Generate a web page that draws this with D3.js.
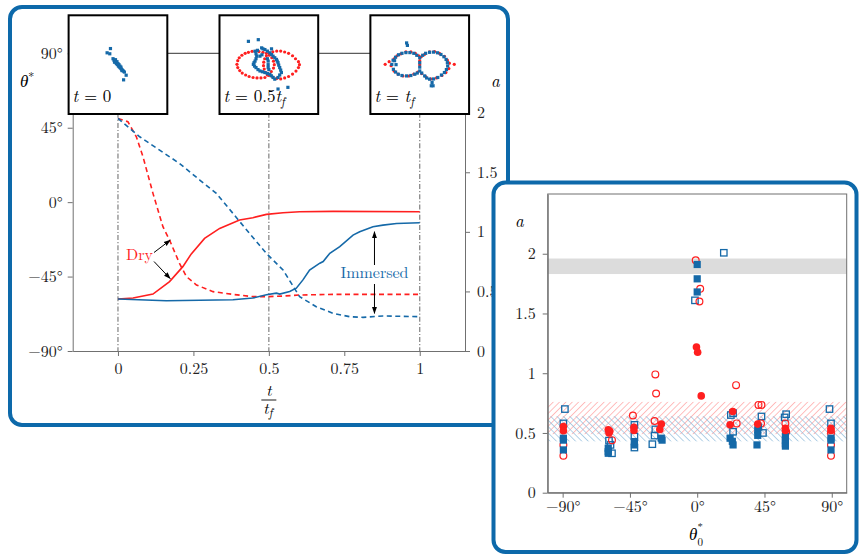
<!DOCTYPE html>
<html>
<head>
<meta charset="utf-8">
<script src="https://cdn.jsdelivr.net/npm/d3@7"></script>
<style>
body { margin: 0; background: #fff; }
</style>
</head>
<body>
<svg id="chart" width="859" height="555"></svg>
<script>
// ---- left panel: time evolution, [t/tf, value]
var dryTheta = [[0,-58.6],[0.05,-58.0],[0.116,-55.6],[0.171,-48.0],[0.215,-39.0],[0.243,-31.3],[0.287,-21.9],
    [0.337,-15.9],[0.403,-10.8],[0.447,-9.4],[0.492,-7.4],[0.547,-6.4],[0.602,-5.8],[0.713,-5.6],[1,-5.8]];
var immTheta = [[0,-58.6],[0.16,-59.6],[0.381,-59.0],[0.447,-58.0],[0.492,-56.0],[0.525,-55.0],[0.536,-55.6],
    [0.569,-54.0],[0.591,-52.0],[0.613,-47.0],[0.635,-41.0],[0.669,-36.9],[0.68,-35.9],[0.702,-30.9],[0.735,-26.9],
    [0.779,-19.9],[0.801,-17.9],[0.845,-14.9],[0.878,-13.9],[0.923,-12.9],[1,-12.5]];
var dryA = [[0,1.952],[0.033,1.924],[0.061,1.798],[0.083,1.63],[0.116,1.323],[0.149,1.043],[0.171,0.931],
    [0.204,0.735],[0.227,0.624],[0.26,0.554],[0.315,0.498],[0.381,0.475],[0.447,0.456],[0.492,0.456],
    [0.547,0.461],[0.602,0.47],[0.713,0.475],[1,0.475]];
var immA = [[0,1.952],[0.072,1.798],[0.138,1.686],[0.204,1.574],[0.271,1.435],[0.326,1.323],[0.381,1.155],
    [0.436,0.987],[0.492,0.819],[0.547,0.68],[0.602,0.456],[0.657,0.372],[0.713,0.316],[0.768,0.288],
    [0.812,0.282],[0.878,0.294],[1,0.288]];

var tTicks = [0, 0.25, 0.5, 0.75, 1];
var thetaTicks = [-90, -45, 0, 45, 90];
var aTicks = [0, 0.5, 1, 1.5, 2];
var snapTimes = [0, 0.5, 1];
var snapLabels = [['0', null], ['0.5', 'f'], ['', 'f']];

// snapshots, box coords 0..100
var snap0Blue = [[42.4,33.7],[39,38],[41.7,39],[45,44],[46,45.5],[47,46.5],[48,48],[48.5,49],[49.5,50],[50.5,51.5],
    [51.5,52.5],[52.5,53.5],[53.5,54.5],[54.5,55.5],[55.5,56.5],[47.5,45],[49,47],[51,50],[53,52.5],[46.5,47.5],
    [50,49],[52,51.5],[54,56],[56.5,57.5],[58.3,60.7],[55.7,65.4]];
var snap1Red = [[17.7,49.7],[18.5,46],[20,43],[22.7,40.5],[26,38.5],[29.3,37.5],[33,36.5],[36.5,36.4],[40,36.8],
    [44,37.5],[18.5,53],[20.5,56],[23,58.5],[26.5,60.5],[30,62],[34,63],[38,63.5],[42,63.5],[46,63],[54,37],
    [58,36.2],[62,36.2],[66,37.2],[70,38.5],[74,41],[77,44],[80,47],[81,50],[80,53],[77.5,56.5],[74,59.5],
    [70,62],[66,63.5],[62,64.5],[58,64],[54,62.5],[50,61],
    [47.5,38.5],[50.5,40.5],[53,43],[54.7,46.5],[55.5,50],[54.7,53.5],[52.5,57],[49.5,60],
    [50.5,38.5],[47.5,41],[45.8,44],[44.8,47.5],[44.6,51],[45.3,54.5],[47,58],[48.5,60.5]];
var snap1Blue = [[36,36.4],[37,39],[37.7,41.4],[37,44],[36,46.4],[34.3,49.7],[35.5,51.5],[37,53],[39,55],[41,56.4],
    [43.5,57.2],[46,58],[48.5,59],[51,59.7],[52.5,61.3],[54.3,63],[46,34.7],[48.5,36.3],[51,38],[52.7,39.7],
    [54.3,41.4],[56,43],[57.7,44.7],[58.5,46.4],[59.3,48],[60,50.5],[61,53],[62,55.5],[62.7,58],[61,60.5],
    [59.3,63],[56,64.7],[49.3,46.4],[49.3,50],[49.3,53],[41,41.4],[42.7,33],[52.7,34],[29.3,26.4],[39.3,24.7],
    [59.3,74.7],[69.3,73],[38.5,35.5],[44,34],[35,48],[43,40],[48.5,44],[50,55]];
var snap2Red = [[15,49.7],[19,47],[21,51],[24,44],[27,41],[31,39],[36,37],[41,37],[45.5,38.5],[49,41],[51.5,42],
    [55,39.5],[60,37],[65,36.8],[70,38.5],[75,41.5],[78,45.5],[80,48.5],[85,49.7],[79.5,54],[76.5,58],[72.5,61],
    [67,63.5],[61,64.5],[56,62],[52,59],[48,57.5],[44,59.5],[39,61.5],[33,61.5],[28,59.5],[24,56.5],[50,50],[50,46]];
var snap2Blue = [[21.7,49.7],[23,45.5],[25.5,42.5],[28.5,40],[32,38.5],[36,37.8],[40,37.8],[44,38.5],[47,40.5],
    [50,43],[53,40.5],[56,38.5],[60,37.5],[64,37.3],[68,38],[71.5,39.7],[74.5,42],[76.7,44.7],[78,48],[78.3,51.4],
    [77,55],[75,58],[72,60.5],[68.3,63],[64,64.5],[60,64.7],[57,63.5],[55,61.4],[52,58.5],[50,56.4],[47.5,58.5],
    [45,59.7],[41,61],[36.7,61.4],[32,61],[28.3,59.7],[25.5,57.5],[23.3,54.7],[36.7,28],[37.5,30.5],[50,48],
    [50,52.5],[61.7,71.4],[63.5,71.4],[62.5,68],[26,50],[24.5,46]];

// ---- right panel: final a vs initial theta0*, [theta0, a]
var dryOpen = [[-89.5,0.40],[-89.5,0.31],[-57,0.44],[-43,0.646],[-28,0.99],[-27.5,0.83],[-28.5,0.60],
    [-1,1.946],[2,1.706],[1.5,1.60],[26,0.90],[26.4,0.58],[41,0.735],[43,0.735],[42.7,0.58],[59,0.58],
    [59.5,0.51],[89.5,0.40],[89.5,0.31],[89.5,0.50]];
var dryFilled = [[-89.5,0.554],[-89.5,0.518],[-59.5,0.526],[-59,0.50],[-58.5,0.515],[-42.3,0.548],[-42.3,0.52],
    [-24,0.574],[-25,0.53],[-0.5,1.22],[0.3,1.175],[2.7,0.81],[23.8,0.68],[22,0.568],[40.5,0.574],
    [59,0.54],[59,0.52],[89.5,0.54],[89.5,0.52]];
var immOpen = [[-88.5,0.70],[-89.5,0.58],[-59,0.436],[-57,0.33],[-58,0.40],[-42,0.568],[-42,0.47],[-42,0.378],
    [-28,0.53],[-28.5,0.478],[-30,0.406],[-1.5,1.61],[17.8,2.008],[24,0.666],[22.5,0.65],[24,0.51],
    [43,0.638],[44,0.50],[59.5,0.657],[58.5,0.63],[88.5,0.70],[89.5,0.58]];
var immFilled = [[-89.5,0.456],[-89.5,0.44],[-89.5,0.358],[-59.5,0.372],[-59.5,0.344],[-59.5,0.33],
    [-42,0.428],[-42,0.40],[-24,0.456],[-23.5,0.44],[0,1.91],[0,1.79],[0,1.68],[22,0.456],[23.5,0.43],
    [24,0.40],[40.5,0.526],[40.5,0.48],[40,0.40],[41,0.55],[59,0.47],[59,0.44],[59,0.41],[59,0.39],
    [89.5,0.456],[89.5,0.44],[89.5,0.358]];
var grayBand = [1.83, 1.96];
var dryBand = [0.49, 0.76];
var immBand = [0.43, 0.64];
var theta0Ticks = [-90, -45, 0, 45, 90];
var aTicksR = [0, 0.5, 1, 1.5, 2];

var RED = '#ff1f1f', BLUE = '#1569a8', FRAME = '#0d69aa';
var FONT = "'Latin Modern Roman', 'CMU Serif', 'Liberation Serif', serif";

var svg = d3.select('#chart').attr('font-family', FONT);
var defs = svg.append('defs');

function hatch(id, color, angle) {
    defs.append('pattern')
        .attr('id', id)
        .attr('patternUnits', 'userSpaceOnUse')
        .attr('width', 4.5).attr('height', 4.5)
        .attr('patternTransform', 'rotate(' + angle + ')')
        .append('line')
        .attr('x1', 0).attr('y1', 0).attr('x2', 0).attr('y2', 4.5)
        .attr('stroke', color).attr('stroke-width', 1.3);
}
hatch('hatchRed', '#ff9c9c', 45);
hatch('hatchBlue', '#8dbad9', -45);

defs.append('marker')
    .attr('id', 'arrow')
    .attr('viewBox', '0 0 10 10')
    .attr('refX', 9).attr('refY', 5)
    .attr('markerWidth', 7).attr('markerHeight', 7)
    .attr('orient', 'auto-start-reverse')
    .attr('markerUnits', 'userSpaceOnUse')
    .append('path')
    .attr('d', 'M0,1.5 L10,5 L0,8.5 z')
    .attr('fill', '#000');

function fmtNum(d) { return (d < 0 ? '\u2212' : '') + Math.abs(d); }
function fmtDeg(d) { return fmtNum(d) + '\u00b0'; }

function styleAxis(g) {
    g.attr('font-family', FONT);
    g.selectAll('path, line').attr('stroke', '#707070');
    g.selectAll('text').attr('font-size', 16).attr('fill', '#222');
}

// ================= LEFT PANEL =================
var left = svg.append('g');
left.append('rect')
    .attr('x', 10).attr('y', 7).attr('width', 498).attr('height', 418)
    .attr('rx', 12)
    .attr('fill', '#fff').attr('stroke', FRAME).attr('stroke-width', 4);

var x = d3.scaleLinear().domain([-0.15, 1.15]).range([72.7, 465]);
var yTheta = d3.scaleLinear().domain([-90, 90]).range([351, 53.3]);
var yA = d3.scaleLinear().domain([0, 2]).range([351, 112.7]);

left.append('g')
    .attr('transform', 'translate(0,351)')
    .call(d3.axisBottom(x).tickValues(tTicks).tickSize(5).tickSizeOuter(0).tickPadding(7).tickFormat(fmtNum))
    .call(styleAxis);
left.append('g')
    .attr('transform', 'translate(72.7,0)')
    .call(d3.axisLeft(yTheta).tickValues(thetaTicks).tickSize(5).tickSizeOuter(0).tickPadding(5).tickFormat(fmtDeg))
    .call(styleAxis);
left.append('g')
    .attr('transform', 'translate(465,0)')
    .call(d3.axisRight(yA).tickValues(aTicks).tickSize(5).tickSizeOuter(0).tickPadding(7).tickFormat(fmtNum))
    .call(styleAxis);
left.append('line')
    .attr('x1', 465).attr('x2', 465).attr('y1', yA(2)).attr('y2', 40)
    .attr('stroke', '#707070');

// snapshot guide lines
left.selectAll('.vline')
    .data(snapTimes)
    .enter().append('line')
    .attr('x1', function (d) { return x(d); })
    .attr('x2', function (d) { return x(d); })
    .attr('y1', yA(2))
    .attr('y2', 351)
    .attr('stroke', '#808080')
    .attr('stroke-width', 1.2)
    .attr('stroke-dasharray', '5,2,1.2,2');

left.append('line')
    .attr('x1', x(0)).attr('x2', x(1))
    .attr('y1', yTheta(90)).attr('y2', yTheta(90))
    .attr('stroke', '#333').attr('stroke-width', 1);

var line = d3.line()
    .x(function (d) { return x(d[0]); });

left.append('path').datum(dryA)
    .attr('d', line.y(function (d) { return yA(d[1]); }))
    .attr('fill', 'none').attr('stroke', RED).attr('stroke-width', 1.6).attr('stroke-dasharray', '5,3.5');
left.append('path').datum(immA)
    .attr('d', line.y(function (d) { return yA(d[1]); }))
    .attr('fill', 'none').attr('stroke', BLUE).attr('stroke-width', 1.6).attr('stroke-dasharray', '5,3.5');
left.append('path').datum(dryTheta)
    .attr('d', line.y(function (d) { return yTheta(d[1]); }))
    .attr('fill', 'none').attr('stroke', RED).attr('stroke-width', 1.6);
left.append('path').datum(immTheta)
    .attr('d', line.y(function (d) { return yTheta(d[1]); }))
    .attr('fill', 'none').attr('stroke', BLUE).attr('stroke-width', 1.6);

// annotations
left.append('text').attr('x', 126).attr('y', 260)
    .attr('font-size', 16).attr('fill', RED).text('Dry');
left.append('line')
    .attr('x1', 154).attr('y1', 252.5).attr('x2', x(0.173)).attr('y2', yA(0.93))
    .attr('stroke', '#000').attr('stroke-width', 1).attr('marker-end', 'url(#arrow)');
left.append('line')
    .attr('x1', 154).attr('y1', 261.5).attr('x2', x(0.173)).attr('y2', yTheta(-46.2))
    .attr('stroke', '#000').attr('stroke-width', 1).attr('marker-end', 'url(#arrow)');
left.append('text').attr('x', x(0.85)).attr('y', 278.3)
    .attr('text-anchor', 'middle')
    .attr('font-size', 16).attr('fill', BLUE).text('Immersed');
left.append('line')
    .attr('x1', x(0.85)).attr('y1', 265).attr('x2', x(0.85)).attr('y2', yTheta(-17.9))
    .attr('stroke', '#000').attr('stroke-width', 1).attr('marker-end', 'url(#arrow)');
left.append('line')
    .attr('x1', x(0.85)).attr('y1', 284).attr('x2', x(0.85)).attr('y2', yA(0.316))
    .attr('stroke', '#000').attr('stroke-width', 1).attr('marker-end', 'url(#arrow)');

// axis labels
left.append('text').attr('x', 20).attr('y', 87).attr('font-size', 17).attr('font-style', 'italic')
    .text('\u03b8').append('tspan').attr('font-style', 'normal').attr('font-size', 12).attr('dy', -6).text('*');
left.append('text').attr('x', 491).attr('y', 87).attr('font-size', 17).attr('font-style', 'italic').text('a');
left.append('text').attr('x', x(0.5)).attr('y', 395.5).attr('text-anchor', 'middle')
    .attr('font-size', 16).attr('font-style', 'italic').text('t');
left.append('line').attr('x1', x(0.5) - 7.5).attr('x2', x(0.5) + 7.5).attr('y1', 400).attr('y2', 400)
    .attr('stroke', '#000').attr('stroke-width', 0.9);
var tf = left.append('text').attr('x', x(0.5) - 1).attr('y', 414).attr('text-anchor', 'middle')
    .attr('font-size', 16).attr('font-style', 'italic');
tf.append('tspan').text('t');
tf.append('tspan').attr('font-size', 12).attr('dy', 3).text('f');

// snapshot boxes
var box = 98.7;
var sx = d3.scaleLinear().domain([0, 100]).range([0, box]);
var snapData = [[snap0Blue, []], [snap1Blue, snap1Red], [snap2Blue, snap2Red]];

snapTimes.forEach(function (t, i) {
    var g = left.append('g').attr('transform', 'translate(' + (x(t) - box / 2) + ',15.3)');
    g.append('rect').attr('width', box).attr('height', box)
        .attr('fill', '#fff').attr('stroke', '#000').attr('stroke-width', 2);
    g.selectAll('.r').data(snapData[i][1]).enter().append('circle')
        .attr('cx', function (d) { return sx(d[0]); })
        .attr('cy', function (d) { return sx(d[1]); })
        .attr('r', 1.6).attr('fill', RED);
    g.selectAll('.b').data(snapData[i][0]).enter().append('rect')
        .attr('x', function (d) { return sx(d[0]) - 1.6; })
        .attr('y', function (d) { return sx(d[1]) - 1.6; })
        .attr('width', 3.2).attr('height', 3.2).attr('fill', BLUE);
    var lab = g.append('text').attr('x', 4).attr('y', 87).attr('font-size', 17);
    lab.append('tspan').attr('font-style', 'italic').text('t');
    lab.append('tspan').text(' = ' + snapLabels[i][0]);
    if (snapLabels[i][1]) {
        lab.append('tspan').attr('font-style', 'italic').text('t');
        lab.append('tspan').attr('font-style', 'italic').attr('font-size', 12).attr('dy', 4).text(snapLabels[i][1]);
    }
});

// ================= RIGHT PANEL =================
var right = svg.append('g');
right.append('rect')
    .attr('x', 493.5).attr('y', 182.5).attr('width', 363).attr('height', 369.5)
    .attr('rx', 12)
    .attr('fill', '#fff').attr('stroke', FRAME).attr('stroke-width', 4);

var x2 = d3.scaleLinear().domain([-100, 100]).range([547.7, 846.7]);
var y2 = d3.scaleLinear().domain([0, 2.5]).range([492.7, 194]);

right.append('rect')
    .attr('x', x2(-100)).attr('width', x2(100) - x2(-100))
    .attr('y', y2(grayBand[1])).attr('height', y2(grayBand[0]) - y2(grayBand[1]))
    .attr('fill', '#dcdcdc');
right.append('rect')
    .attr('x', x2(-100)).attr('width', x2(100) - x2(-100))
    .attr('y', y2(dryBand[1])).attr('height', y2(dryBand[0]) - y2(dryBand[1]))
    .attr('fill', 'url(#hatchRed)');
right.append('rect')
    .attr('x', x2(-100)).attr('width', x2(100) - x2(-100))
    .attr('y', y2(immBand[1])).attr('height', y2(immBand[0]) - y2(immBand[1]))
    .attr('fill', 'url(#hatchBlue)');

right.append('g')
    .attr('transform', 'translate(0,492.7)')
    .call(d3.axisBottom(x2).tickValues(theta0Ticks).tickSize(5).tickSizeOuter(0).tickPadding(3).tickFormat(fmtDeg))
    .call(styleAxis);
right.append('g')
    .attr('transform', 'translate(547.7,0)')
    .call(d3.axisLeft(y2).tickValues(aTicksR).tickSize(5).tickSizeOuter(0).tickPadding(7).tickFormat(fmtNum))
    .call(styleAxis);
right.append('rect')
    .attr('x', x2(-100)).attr('y', y2(2.5))
    .attr('width', x2(100) - x2(-100)).attr('height', y2(0) - y2(2.5))
    .attr('fill', 'none').attr('stroke', '#707070');

right.selectAll('.io').data(immOpen).enter().append('rect')
    .attr('x', function (d) { return x2(d[0]) - 3.2; })
    .attr('y', function (d) { return y2(d[1]) - 3.2; })
    .attr('width', 6.4).attr('height', 6.4)
    .attr('fill', 'none').attr('stroke', BLUE).attr('stroke-width', 1.3);
right.selectAll('.do').data(dryOpen).enter().append('circle')
    .attr('cx', function (d) { return x2(d[0]); })
    .attr('cy', function (d) { return y2(d[1]); })
    .attr('r', 3.4)
    .attr('fill', 'none').attr('stroke', RED).attr('stroke-width', 1.2);
right.selectAll('.if').data(immFilled).enter().append('rect')
    .attr('x', function (d) { return x2(d[0]) - 3.6; })
    .attr('y', function (d) { return y2(d[1]) - 3.6; })
    .attr('width', 7.2).attr('height', 7.2)
    .attr('fill', BLUE);
right.selectAll('.df').data(dryFilled).enter().append('circle')
    .attr('cx', function (d) { return x2(d[0]); })
    .attr('cy', function (d) { return y2(d[1]); })
    .attr('r', 3.8)
    .attr('fill', RED);

right.append('text').attr('x', 515).attr('y', 227).attr('font-size', 17).attr('font-style', 'italic').text('a');
right.append('text').attr('x', 689).attr('y', 540).attr('font-size', 17).attr('font-style', 'italic').text('\u03b8');
right.append('text').attr('x', 697.5).attr('y', 531).attr('font-size', 11).text('*');
right.append('text').attr('x', 697.5).attr('y', 546).attr('font-size', 11).text('0');
</script>
</body>
</html>
